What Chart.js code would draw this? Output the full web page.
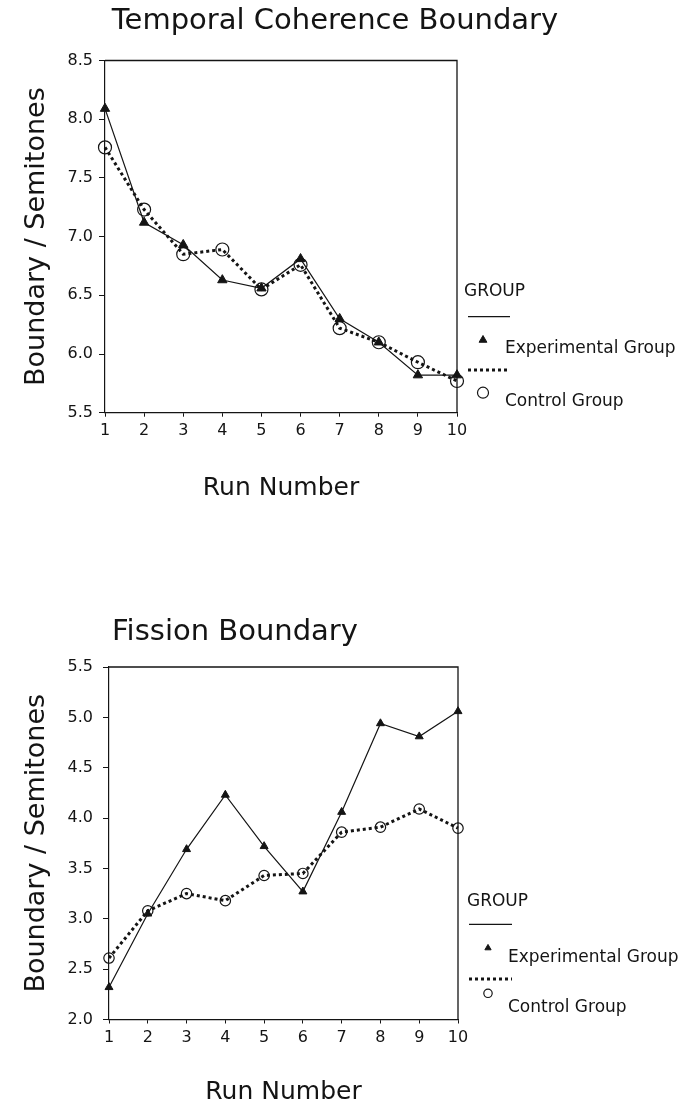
<!DOCTYPE html>
<html><head><meta charset="utf-8">
<script src="https://cdn.jsdelivr.net/npm/chart.js@4.4.1/dist/chart.umd.min.js"></script>
<style>
html,body{margin:0;padding:0;background:#fff;}
#wrap{position:relative;width:693px;height:1108px;background:#fff;}
.c{position:absolute;left:0;width:693px;height:554px;}
</style></head><body>
<div id="wrap">
<div class="c" style="top:0"><canvas id="c1" width="693" height="554"></canvas></div>
<div class="c" style="top:554px"><canvas id="c2" width="693" height="554"></canvas></div>
</div>
<script>
// ---- data ----
const runNumbers = ['1','2','3','4','5','6','7','8','9','10'];
const seriesNames = ['Experimental Group','Control Group'];
const legendTitle = 'GROUP';
const yAxisTitle = 'Boundary / Semitones';
const xAxisTitle = 'Run Number';

const temporalTitle = 'Temporal Coherence Boundary';
const temporalExperimental = [8.09, 7.12, 6.93, 6.63, 6.56, 6.81, 6.30, 6.10, 5.82, 5.82];
const temporalControl      = [7.76, 7.23, 6.85, 6.89, 6.55, 6.76, 6.22, 6.10, 5.93, 5.77];
const temporalTicks = [5.5, 6.0, 6.5, 7.0, 7.5, 8.0, 8.5];

const fissionTitle = 'Fission Boundary';
const fissionExperimental = [2.32, 3.05, 3.69, 4.23, 3.72, 3.27, 4.06, 4.94, 4.81, 5.06];
const fissionControl      = [2.61, 3.08, 3.25, 3.18, 3.43, 3.45, 3.86, 3.91, 4.09, 3.90];
const fissionTicks = [2.0, 2.5, 3.0, 3.5, 4.0, 4.5, 5.0, 5.5];

// ---- styling / drawing ----
const INK = '#141414';
const FONT = 'DejaVu Sans';
Chart.defaults.font.family = FONT;
Chart.defaults.color = INK;

const frame = {
  id: 'frame',
  afterDatasetsDraw(chart) {
    const {ctx, chartArea: a} = chart;
    ctx.save();
    ctx.strokeStyle = INK; ctx.lineWidth = 1.3;
    ctx.beginPath();
    ctx.moveTo(a.left, a.top); ctx.lineTo(a.right, a.top); ctx.lineTo(a.right, a.bottom);
    ctx.stroke();
    ctx.restore();
  }
};

const groupLegend = {
  id: 'groupLegend',
  afterDraw(chart, args, o) {
    const {ctx, chartArea: a} = chart;
    const R = a.right, B = a.bottom;
    ctx.save();
    ctx.fillStyle = INK; ctx.strokeStyle = INK;
    ctx.font = o.fontSize + 'px "' + FONT + '"';
    ctx.textBaseline = 'middle'; ctx.textAlign = 'left';
    ctx.fillText(o.header, R + o.headerX, B - o.headerY);
    chart.data.datasets.forEach((d, i) => {
      const r = o.rows[i];
      ctx.save();
      ctx.strokeStyle = INK;
      ctx.lineWidth = d.borderWidth;
      ctx.setLineDash(d.borderDash || []);
      ctx.beginPath();
      ctx.moveTo(R + o.lineX0, B - r.lineY);
      ctx.lineTo(R + o.lineX1, B - r.lineY);
      ctx.stroke();
      ctx.restore();
      ctx.save();
      ctx.fillStyle = d.pointBackgroundColor;
      ctx.strokeStyle = INK;
      ctx.lineWidth = d.pointBorderWidth;
      Chart.helpers.drawPoint(ctx, {pointStyle: d.pointStyle, radius: r.markerR, borderWidth: d.pointBorderWidth, rotation: 0}, R + o.markerX, B - r.markerY);
      ctx.restore();
      ctx.fillStyle = INK;
      ctx.fillText(d.label, R + o.textX, B - r.textY);
    });
    ctx.restore();
  }
};

function makeChart(id, title, expVals, ctlVals, ticks, L) {
  return new Chart(document.getElementById(id), {
    type: 'line',
    data: {
      labels: runNumbers,
      datasets: [
        {
          label: seriesNames[0], data: expVals,
          borderColor: INK, borderWidth: 1.2, tension: 0, fill: false,
          pointStyle: 'triangle', pointRadius: L.triR, pointBackgroundColor: INK,
          pointBorderColor: INK, pointBorderWidth: 1, clip: false
        },
        {
          label: seriesNames[1], data: ctlVals,
          borderColor: INK, borderWidth: 3, borderDash: [3, 3], tension: 0, fill: false,
          pointStyle: 'circle', pointRadius: L.circR, pointBackgroundColor: 'rgba(0,0,0,0)',
          pointBorderColor: INK, pointBorderWidth: 1.2, clip: false
        }
      ]
    },
    options: {
      responsive: false, animation: false, devicePixelRatio: 1,
      layout: {padding: {left: 0, right: L.padRight, top: 0, bottom: L.padBottom}},
      plugins: {
        legend: {display: false},
        tooltip: {enabled: false},
        title: {
          display: true, text: title, align: 'center', color: INK,
          font: {family: FONT, size: 29, weight: 'normal'},
          padding: {top: L.titleTop, bottom: L.titleBottom}
        },
        groupLegend: Object.assign({header: legendTitle, fontSize: 17}, L.legend)
      },
      scales: {
        x: {
          type: 'category', offset: false,
          grid: {display: true, drawOnChartArea: false, drawTicks: true, tickLength: 4, color: INK, tickColor: INK},
          border: {display: true, color: INK, width: 1.2},
          ticks: {color: INK, font: {size: 16}, padding: L.xTickPad, maxRotation: 0, autoSkip: false},
          title: {display: true, text: xAxisTitle, color: INK, font: {size: 25}, padding: {top: 0, bottom: L.xTitlePad}},
          afterFit: s => { s.height = L.xHeight; }
        },
        y: {
          type: 'linear', position: 'left',
          min: ticks[0], max: ticks[ticks.length - 1],
          afterBuildTicks: s => { s.ticks = ticks.map(v => ({value: v})); },
          grid: {display: true, drawOnChartArea: false, drawTicks: true, tickLength: 6, color: INK, tickColor: INK},
          border: {display: true, color: INK, width: 1.2},
          ticks: {color: INK, font: {size: 16}, padding: L.yTickPad, callback: v => Number(v).toFixed(1)},
          title: {display: true, text: yAxisTitle, color: INK, font: {size: 27}, padding: {top: 21, bottom: 0}},
          afterFit: s => { s.width = L.yWidth; }
        },
        side: {
          type: 'linear', position: 'right', display: true,
          grid: {display: false}, border: {display: false}, ticks: {display: false},
          afterFit: s => { s.width = L.sideWidth; }
        }
      }
    },
    plugins: [frame, groupLegend]
  });
}

makeChart('c1', temporalTitle, temporalExperimental, temporalControl, temporalTicks, {
  triR: 5.4, circR: 6.5,
  padRight: 23, sideWidth: 213, yWidth: 105, yTickPad: 6,
  titleTop: 4.3, titleBottom: 21.4,
  padBottom: 41.3, xHeight: 100, xTickPad: 5, xTitlePad: 9.7,
  legend: {headerX: 7, headerY: 120.7, lineX0: 11, lineX1: 53, markerX: 26, textX: 48,
    rows: [
      {lineY: 96, markerY: 72.7, markerR: 4.5, textY: 63.7},
      {lineY: 42.7, markerY: 20, markerR: 5.5, textY: 11.5}
    ]}
});

makeChart('c2', fissionTitle, fissionExperimental, fissionControl, fissionTicks, {
  triR: 4.6, circR: 5.2,
  padRight: 223, sideWidth: 12, yWidth: 109, yTickPad: 10,
  titleTop: 60.6, titleBottom: 17.6,
  padBottom: 0, xHeight: 88.5, xTickPad: 5, xTitlePad: 1,
  legend: {headerX: 9, headerY: 117.5, lineX0: 11, lineX1: 54, markerX: 30, textX: 50,
    rows: [
      {lineY: 95.2, markerY: 71.5, markerR: 3.6, textY: 61.5},
      {lineY: 40.5, markerY: 26.2, markerR: 4.2, textY: 11.5}
    ]}
});
</script>
</body></html>
